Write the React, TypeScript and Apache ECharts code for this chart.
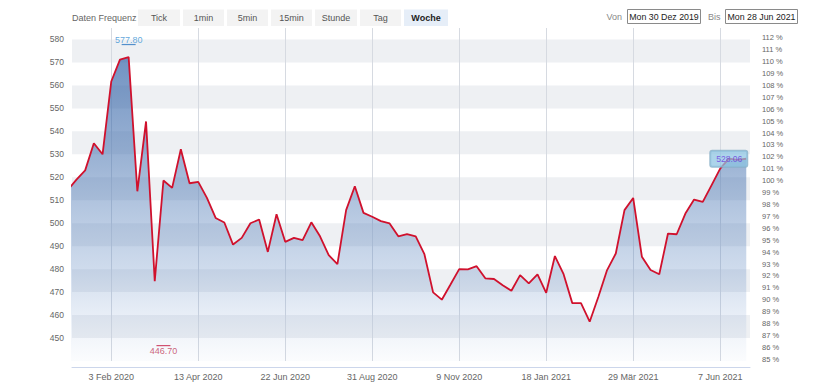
import React, { useEffect, useRef } from 'react';
import * as echarts from 'echarts';

// Weekly dates (week start) and weekly closing values
const weekDates: string[] = [
  '2019-12-30', '2020-01-06', '2020-01-13', '2020-01-20', '2020-01-27', '2020-02-03', '2020-02-10', '2020-02-17',
  '2020-02-24', '2020-03-02', '2020-03-09', '2020-03-16', '2020-03-23', '2020-03-30', '2020-04-06', '2020-04-13',
  '2020-04-20', '2020-04-27', '2020-05-04', '2020-05-11', '2020-05-18', '2020-05-25', '2020-06-01', '2020-06-08',
  '2020-06-15', '2020-06-22', '2020-06-29', '2020-07-06', '2020-07-13', '2020-07-20', '2020-07-27', '2020-08-03',
  '2020-08-10', '2020-08-17', '2020-08-24', '2020-08-31', '2020-09-07', '2020-09-14', '2020-09-21', '2020-09-28',
  '2020-10-05', '2020-10-12', '2020-10-19', '2020-10-26', '2020-11-02', '2020-11-09', '2020-11-16', '2020-11-23',
  '2020-11-30', '2020-12-07', '2020-12-14', '2020-12-21', '2020-12-28', '2021-01-04', '2021-01-11', '2021-01-18',
  '2021-01-25', '2021-02-01', '2021-02-08', '2021-02-15', '2021-02-22', '2021-03-01', '2021-03-08', '2021-03-15',
  '2021-03-22', '2021-03-29', '2021-04-05', '2021-04-12', '2021-04-19', '2021-04-26', '2021-05-03', '2021-05-10',
  '2021-05-17', '2021-05-24', '2021-05-31', '2021-06-07', '2021-06-14', '2021-06-21', '2021-06-28',
];

const weekCloses: number[] = [
  514.5, 519.0, 523.0, 534.8, 530.0, 561.7, 571.2, 572.3,
  513.9, 544.3, 474.8, 518.6, 515.4, 532.2, 517.4, 518.0,
  511.0, 502.3, 500.3, 490.7, 493.6, 500.0, 501.6, 487.5,
  503.9, 491.9, 493.6, 492.6, 500.4, 494.3, 486.1, 482.2,
  505.7, 516.1, 504.5, 502.8, 500.9, 499.9, 494.3, 495.2,
  494.3, 486.5, 469.9, 466.7, 473.3, 480.0, 479.9, 481.3,
  476.0, 475.7, 473.0, 470.6, 477.4, 473.8, 477.7, 469.7,
  485.7, 477.8, 465.2, 465.2, 457.1, 468.0, 479.6, 486.8,
  505.7, 511.0, 485.4, 479.6, 477.8, 495.5, 495.2, 504.2,
  510.3, 509.3, 516.5, 523.8, 528.1, 527.6, 528.06,
];

// Period high / low markers
const highDate = '2020-02-17';
const highValue = 577.8;
const lowDate = '2020-03-16';
const lowValue = 446.7;

// X axis tick dates and their labels
const xTickDates: string[] = [
  '2020-02-03', '2020-04-13', '2020-06-22', '2020-08-31', '2020-11-09', '2021-01-18', '2021-03-29', '2021-06-07',
];
const xTickLabels: string[] = [
  '3 Feb 2020', '13 Apr 2020', '22 Jun 2020', '31 Aug 2020', '9 Nov 2020', '18 Jan 2021', '29 Mär 2021', '7 Jun 2021',
];

// Left axis ticks (price) and right axis ticks (percent of base)
const leftTicks: number[] = [450, 460, 470, 480, 490, 500, 510, 520, 530, 540, 550, 560, 570, 580];
const rightTicks: number[] = [
  85, 86, 87, 88, 89, 90, 91, 92, 93, 94, 95, 96, 97, 98, 99, 100,
  101, 102, 103, 104, 105, 106, 107, 108, 109, 110, 111, 112,
];
const percentBase = 518.5;

// Toolbar texts
const frequencyLabel = 'Daten Frequenz';
const frequencyButtons: string[] = ['Tick', '1min', '5min', '15min', 'Stunde', 'Tag', 'Woche'];
const activeButton = 'Woche';
const fromLabel = 'Von';
const fromDate = 'Mon 30 Dez 2019';
const toLabel = 'Bis';
const toDate = 'Mon 28 Jun 2021';

const parseDate = (s: string): number => {
  const [y, m, d] = s.split('-').map(Number);
  return new Date(y, m - 1, d).getTime();
};

const FONT = "'Liberation Sans', Arial, Helvetica, sans-serif";

export default function App() {
  const ref = useRef<HTMLDivElement>(null);

  useEffect(() => {
    if (!ref.current) return;
    const chart = echarts.init(ref.current, undefined, { renderer: 'svg' });

    const yMin = 440;
    const yMax = 585;
    const xMin = new Date(2020, 0, 2, 10).getTime();
    const xMax = new Date(2021, 6, 1, 0).getTime();
    const tickTimes = xTickDates.map(parseDate);

    const lineData = weekDates.map((d, i) => [parseDate(d), weekCloses[i]]);
    const lastIdx = weekDates.length - 1;

    // toolbar graphic
    const btnX = [138, 183, 227, 271, 315, 360, 404];
    const btnW = [42, 41, 41, 41, 42, 41, 44];
    const graphics: any[] = [
      {
        type: 'text',
        x: 72,
        y: 17.8,
        style: { text: frequencyLabel, fontSize: 9, fill: '#666', verticalAlign: 'middle', fontFamily: FONT },
      },
    ];
    frequencyButtons.forEach((b, i) => {
      const active = b === activeButton;
      graphics.push({
        type: 'rect',
        shape: { x: btnX[i], y: 9.5, width: btnW[i], height: 16.5 },
        style: { fill: active ? '#e6eef8' : '#f3f3f3' },
      });
      graphics.push({
        type: 'text',
        x: btnX[i] + btnW[i] / 2,
        y: 17.8,
        style: {
          text: b,
          fontSize: 9,
          fill: active ? '#222' : '#555',
          fontWeight: active ? 'bold' : 'normal',
          align: 'center',
          verticalAlign: 'middle',
          fontFamily: FONT,
        },
      });
    });
    graphics.push(
      {
        type: 'text',
        x: 606.5,
        y: 16.8,
        style: { text: fromLabel, fontSize: 9, fill: '#888', verticalAlign: 'middle', fontFamily: FONT },
      },
      {
        type: 'rect',
        shape: { x: 627.5, y: 9.5, width: 73, height: 14 },
        style: { fill: '#fff', stroke: '#8a8a8a', lineWidth: 1 },
      },
      {
        type: 'text',
        x: 664,
        y: 16.8,
        style: { text: fromDate, fontSize: 8.8, fill: '#222', align: 'center', verticalAlign: 'middle', fontFamily: FONT },
      },
      {
        type: 'text',
        x: 708,
        y: 16.8,
        style: { text: toLabel, fontSize: 9, fill: '#888', verticalAlign: 'middle', fontFamily: FONT },
      },
      {
        type: 'rect',
        shape: { x: 725.5, y: 9.5, width: 72, height: 14 },
        style: { fill: '#fff', stroke: '#8a8a8a', lineWidth: 1 },
      },
      {
        type: 'text',
        x: 761.5,
        y: 16.8,
        style: { text: toDate, fontSize: 8.8, fill: '#222', align: 'center', verticalAlign: 'middle', fontFamily: FONT },
      }
    );

    const option: any = {
      animation: false,
      textStyle: { fontFamily: FONT },
      grid: { left: 72, right: 80, top: 28, bottom: 22, containLabel: false },
      graphic: graphics,
      xAxis: {
        type: 'value',
        min: xMin,
        max: xMax,
        offset: 6,
        axisLine: { show: true, lineStyle: { color: '#ccd6eb', width: 1 } },
        axisTick: { show: false, customValues: tickTimes },
        axisLabel: {
          customValues: tickTimes,
          fontSize: 9,
          color: '#666',
          margin: 5,
          formatter: (v: number) => {
            const i = tickTimes.findIndex((t) => Math.abs(t - v) < 86400000);
            return i >= 0 ? xTickLabels[i] : '';
          },
        },
        splitLine: { show: true, lineStyle: { color: '#d6dae1', width: 1 } },
      },
      yAxis: [
        {
          type: 'value',
          position: 'left',
          min: yMin,
          max: yMax,
          interval: 10,
          axisLine: { show: false },
          axisTick: { show: false },
          axisLabel: {
            fontSize: 8.5,
            color: '#666',
            margin: 8,
            formatter: (v: number) => (leftTicks.indexOf(v) >= 0 ? String(v) : ''),
          },
          splitLine: { show: false },
          splitArea: { show: true, areaStyle: { color: ['rgba(0,0,0,0)', '#eef0f3'] } },
        },
        {
          type: 'value',
          position: 'right',
          min: (yMin / percentBase) * 100,
          max: (yMax / percentBase) * 100,
          axisLine: { show: false },
          axisTick: { show: false },
          axisLabel: {
            customValues: rightTicks,
            fontSize: 7.5,
            color: '#666',
            margin: 12,
            formatter: (v: number) => `${Math.round(v)} %`,
          },
          splitLine: { show: false },
          splitArea: { show: false },
        },
      ],
      series: [
        {
          type: 'line',
          data: lineData,
          yAxisIndex: 0,
          symbol: 'none',
          lineStyle: { color: '#d0112d', width: 1.8 },
          itemStyle: { color: '#d0112d' },
          areaStyle: {
            color: new echarts.graphic.LinearGradient(0, 0, 0, 1, [
              { offset: 0, color: 'rgba(42,92,163,0.95)' },
              { offset: 0.35, color: 'rgba(62,108,172,0.72)' },
              { offset: 0.7, color: 'rgba(92,134,192,0.42)' },
              { offset: 1, color: 'rgba(140,170,215,0.05)' },
            ]),
          },
          z: 3,
        },
        {
          type: 'scatter',
          yAxisIndex: 0,
          symbol: 'rect',
          symbolSize: [14, 1.2],
          silent: true,
          z: 5,
          data: [
            {
              value: [parseDate(highDate), highValue],
              itemStyle: { color: '#2b77c0' },
              label: {
                show: true,
                position: 'top',
                distance: -1,
                formatter: highValue.toFixed(2),
                color: '#3a92d4',
                fontSize: 9,
              },
            },
            {
              value: [parseDate(lowDate), lowValue],
              itemStyle: { color: '#c8284d' },
              label: {
                show: true,
                position: 'bottom',
                distance: 0,
                formatter: lowValue.toFixed(2),
                color: '#c0395a',
                fontSize: 9,
              },
            },
          ],
        },
        {
          type: 'scatter',
          yAxisIndex: 0,
          symbolSize: 0,
          silent: true,
          z: 6,
          data: [
            {
              value: [parseDate(weekDates[lastIdx]), weekCloses[lastIdx]],
              label: {
                show: true,
                position: 'left',
                distance: -1,
                formatter: weekCloses[lastIdx].toFixed(2),
                color: '#6a3ae0',
                fontSize: 8.5,
                backgroundColor: 'rgba(140,195,226,0.9)',
                borderColor: '#86aec6',
                borderWidth: 1,
                borderRadius: 2,
                padding: [4, 5, 3, 6],
              },
            },
          ],
        },
      ],
    };

    chart.setOption(option);
    return () => {
      chart.dispose();
    };
  }, []);

  return (
    <div
      ref={ref}
      style={{ position: 'fixed', left: 0, top: 0, width: 830, height: 383, background: '#fff' }}
    />
  );
}
